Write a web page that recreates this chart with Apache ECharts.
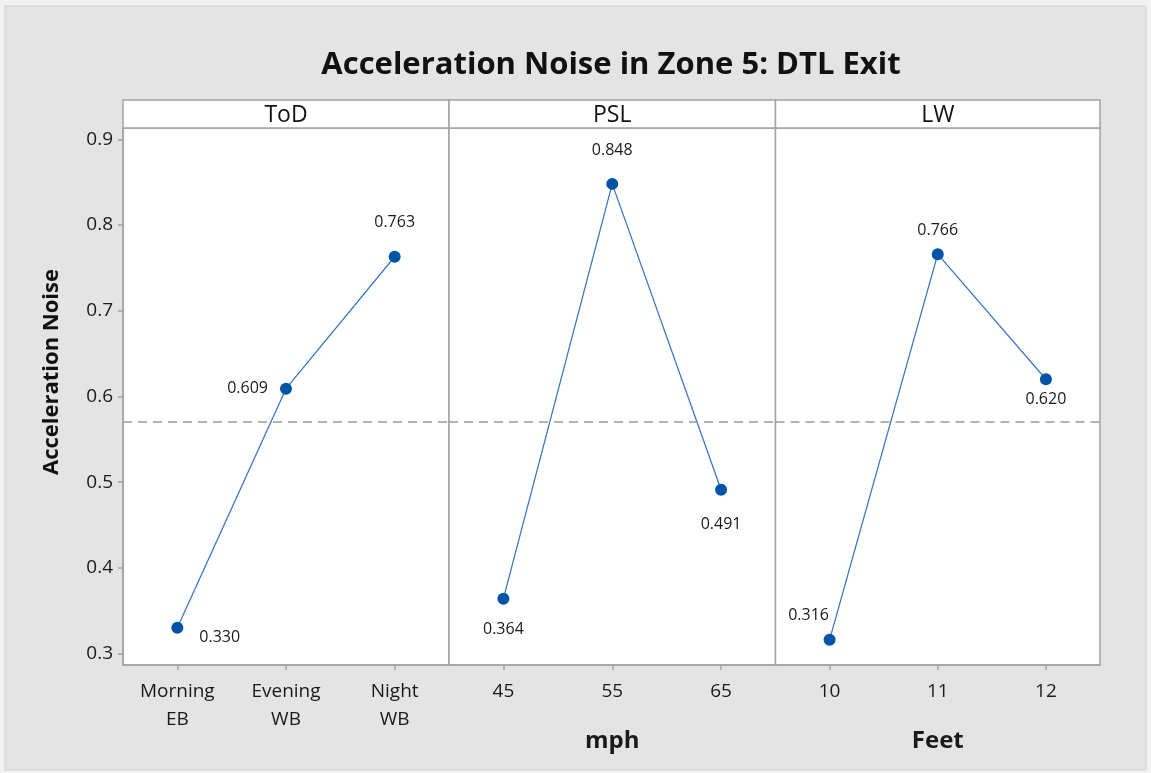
<!DOCTYPE html>
<html>
<head>
<meta charset="utf-8">
<script src="https://cdn.jsdelivr.net/npm/echarts@6/dist/echarts.min.js"></script>
<style>
html,body{margin:0;padding:0;background:#f2f2f2;}
#chart{width:1151px;height:773px;}
</style>
</head>
<body>
<div id="chart"></div>
<script>
// ---- data ----
const titleText = 'Acceleration Noise in Zone 5: DTL Exit';
const yAxisTitle = 'Acceleration Noise';
const panelNames = ['ToD', 'PSL', 'LW'];
const todCategories = ['Morning\nEB', 'Evening\nWB', 'Night\nWB'];
const pslCategories = ['45', '55', '65'];
const lwCategories = ['10', '11', '12'];
const todValues = [0.330, 0.609, 0.763];
const pslValues = [0.364, 0.848, 0.491];
const lwValues = [0.316, 0.766, 0.620];
const xAxisNames = ['', 'mph', 'Feet'];
const yTickValues = [0.3, 0.4, 0.5, 0.6, 0.7, 0.8, 0.9];
const grandMean = 0.568;

// ---- layout / style (not data) ----
const plotTop = 128, plotBottom = 665, stripTop = 100;
const panelEdges = [123, 449, 775.5, 1100];
const yMin = 0.2866, yMax = 0.9132;
const frameColor = '#a3a3a3';
const labelPlacement = [
  [{position:'right', distance:16, offset:[0,10]}, {position:'left', distance:12}, {position:'top', distance:20}],
  [{position:'bottom', distance:17}, {position:'top', distance:19}, {position:'bottom', distance:21}],
  [{position:'top', distance:10, offset:[-21,0]}, {position:'top', distance:10}, {position:'bottom', distance:6}]
];

const categoriesList = [todCategories, pslCategories, lwCategories];
const valuesList = [todValues, pslValues, lwValues];
const fontFam = '"Open Sans", "Noto Sans", sans-serif';

const grids = [], xAxes = [], yAxes = [], series = [];
for (let i = 0; i < 3; i++) {
  grids.push({
    left: panelEdges[i], width: panelEdges[i+1] - panelEdges[i],
    top: plotTop, height: plotBottom - plotTop,
    show: true, backgroundColor: '#ffffff', borderColor: frameColor, borderWidth: 1.5
  });
  xAxes.push({
    type: 'category', gridIndex: i, data: categoriesList[i], boundaryGap: true,
    axisLine: {show: true, lineStyle: {color: frameColor, width: 1.5}},
    axisTick: {show: true, alignWithLabel: true, length: 5, lineStyle: {color: frameColor, width: 1.5}},
    axisLabel: {color: '#1a1a1a', fontSize: 19, fontFamily: fontFam, margin: 13, lineHeight: 28},
    name: xAxisNames[i], nameLocation: 'middle', nameGap: 64,
    nameTextStyle: {color: '#1a1a1a', fontSize: 24, fontWeight: 'bold', fontFamily: fontFam}
  });
  yAxes.push({
    type: 'value', gridIndex: i, min: yMin, max: yMax,
    axisLine: {show: i === 0, lineStyle: {color: frameColor, width: 1.5}},
    axisTick: {show: i === 0, length: 5, customValues: yTickValues, lineStyle: {color: frameColor, width: 1.5}},
    axisLabel: {show: i === 0, customValues: yTickValues, color: '#1a1a1a', fontSize: 19, fontFamily: fontFam, margin: 10,
      formatter: v => v.toFixed(1)},
    splitLine: {show: false}
  });
  series.push({
    type: 'line', xAxisIndex: i, yAxisIndex: i,
    data: valuesList[i].map((v, j) => ({
      value: v,
      label: Object.assign({show: true, formatter: p => p.value.toFixed(3)}, labelPlacement[i][j])
    })),
    symbol: 'circle', symbolSize: 12,
    itemStyle: {color: '#0054a6'},
    lineStyle: {color: '#3a78c6', width: 1.3},
    label: {color: '#1a1a1a', fontSize: 16, fontFamily: fontFam},
    markLine: {
      silent: true, symbol: 'none', label: {show: false},
      lineStyle: {color: '#9a9a9a', type: [9, 6], width: 1.5},
      data: [{yAxis: grandMean}]
    },
    z: 3
  });
}

const graphics = [
  {type: 'rect', shape: {x: 5, y: 6, width: 1141, height: 764}, style: {fill: '#e4e4e4', stroke: '#d2d2d2', lineWidth: 1}, z: -10},
  {type: 'text', x: 611, y: 65, style: {text: titleText, textAlign: 'center', textVerticalAlign: 'middle',
    font: 'bold 31px ' + fontFam, fill: '#111'}},
  {type: 'text', x: 52, y: 372, rotation: Math.PI / 2, style: {text: yAxisTitle, textAlign: 'center', textVerticalAlign: 'middle',
    font: 'bold 22px ' + fontFam, fill: '#111'}}
];
for (let i = 0; i < 3; i++) {
  graphics.push({type: 'rect', shape: {x: panelEdges[i], y: stripTop, width: panelEdges[i+1] - panelEdges[i], height: plotTop - stripTop},
    style: {fill: '#ffffff', stroke: frameColor, lineWidth: 1.5}});
  graphics.push({type: 'text', x: (panelEdges[i] + panelEdges[i+1]) / 2, y: (stripTop + plotTop) / 2 + 1,
    style: {text: panelNames[i], textAlign: 'center', textVerticalAlign: 'middle', font: '23px ' + fontFam, fill: '#111'}});
}

const chart = echarts.init(document.getElementById('chart'), null, {renderer: 'canvas'});
chart.setOption({
  backgroundColor: '#f2f2f2',
  animation: false,
  grid: grids, xAxis: xAxes, yAxis: yAxes, series: series,
  graphic: graphics
});
</script>
</body>
</html>
